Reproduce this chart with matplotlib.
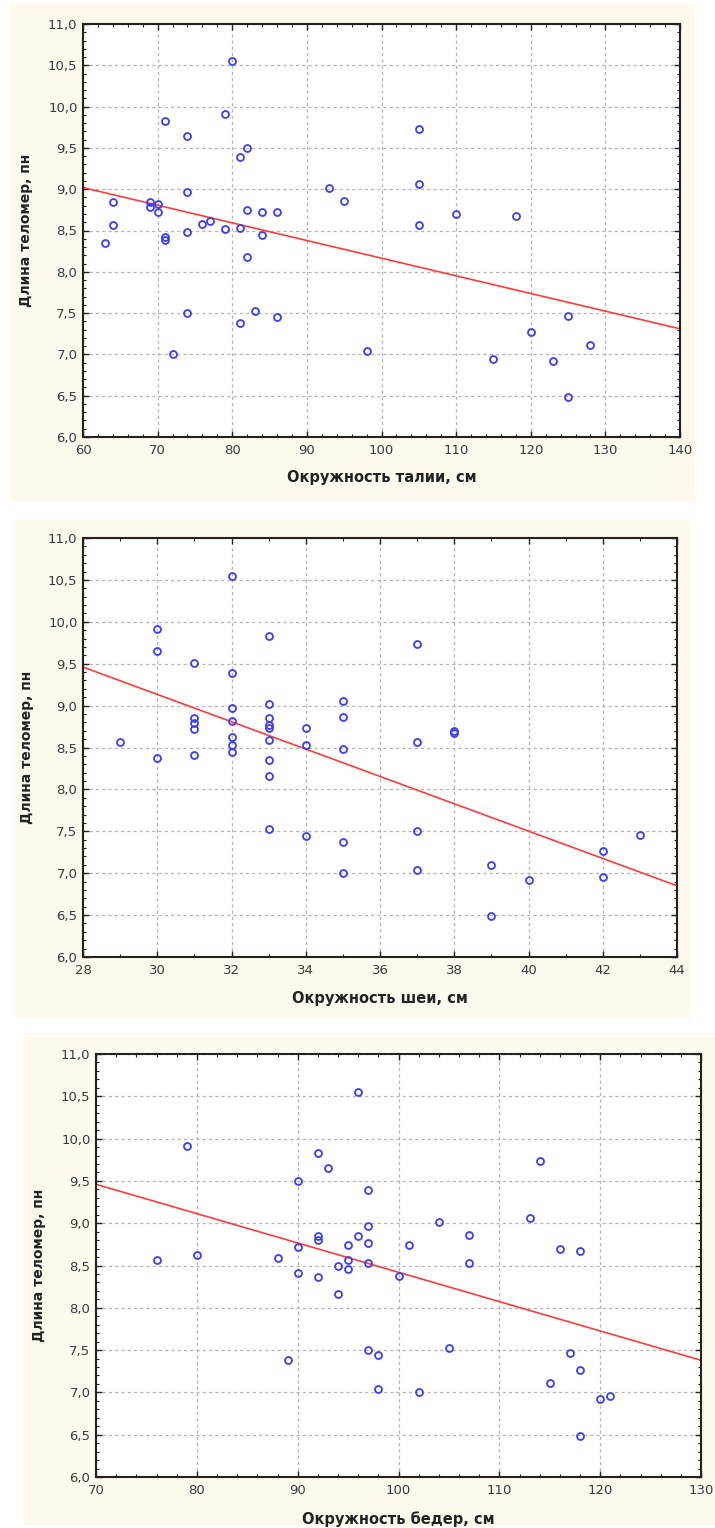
import numpy as np
import matplotlib
matplotlib.use("Agg")
import matplotlib.pyplot as plt
from matplotlib.patches import Rectangle
from matplotlib.ticker import MultipleLocator, FuncFormatter

# ---- data ----
# telomere length (пн) vs waist circumference (см)
waist_cm = [63, 64, 64, 69, 69, 70, 70, 71, 71, 71, 72, 74, 74, 74, 74, 76, 77, 79, 79,
            80, 81, 81, 81, 82, 82, 82, 83, 84, 84, 86, 86, 93, 95, 98, 105, 105, 105,
            110, 115, 118, 120, 123, 125, 125, 128]
waist_tl = [8.35, 8.85, 8.57, 8.85, 8.79, 8.82, 8.72, 9.83, 8.42, 8.38, 7.00, 9.65, 8.97, 8.48,
            7.50, 8.58, 8.62, 9.91, 8.52, 10.55, 9.39, 8.53, 7.38, 9.50, 8.75, 8.18, 7.53,
            8.73, 8.45, 8.73, 7.45, 9.02, 8.86, 7.04, 9.73, 9.06, 8.57, 8.70, 6.95, 8.67,
            7.27, 6.92, 7.46, 6.49, 7.11]
waist_fit_x = [60, 140]
waist_fit_y = [9.02, 7.31]

# neck circumference (см)
neck_cm = [29, 30, 30, 30, 31, 31, 31, 31, 31, 32, 32, 32, 32, 32, 32, 32, 33, 33, 33, 33,
           33, 33, 33, 33, 33, 34, 34, 34, 35, 35, 35, 35, 35, 37, 37, 37, 37, 38, 38, 39,
           39, 40, 42, 42, 43]
neck_tl = [8.57, 9.91, 9.65, 8.37, 9.51, 8.85, 8.79, 8.72, 8.41, 10.55, 9.39, 8.97, 8.82,
           8.62, 8.53, 8.45, 9.83, 9.02, 8.85, 8.77, 8.73, 8.59, 8.35, 8.16, 7.53, 8.73,
           8.53, 7.44, 9.06, 8.86, 8.48, 7.37, 7.00, 9.73, 8.57, 7.50, 7.04, 8.70, 8.67,
           7.10, 6.49, 6.92, 7.27, 6.96, 7.45]
neck_fit_x = [28, 44]
neck_fit_y = [9.46, 6.85]

# hip circumference (см)
hip_cm = [76, 79, 80, 88, 89, 90, 90, 90, 92, 92, 92, 92, 93, 94, 94, 95, 95, 95, 96, 96,
          97, 97, 97, 97, 97, 98, 98, 100, 101, 102, 104, 105, 107, 107, 113, 114, 115,
          116, 117, 118, 118, 118, 120, 121]
hip_tl = [8.57, 9.91, 8.63, 8.59, 7.38, 9.50, 8.72, 8.41, 9.83, 8.85, 8.80, 8.36, 9.65,
          8.49, 8.16, 8.74, 8.57, 8.46, 10.55, 8.85, 9.39, 8.97, 8.77, 8.53, 7.50, 7.44,
          7.04, 8.38, 8.74, 7.00, 9.02, 7.53, 8.86, 8.53, 9.06, 9.73, 7.11, 8.70, 7.46,
          8.67, 7.27, 6.49, 6.92, 6.96]
hip_fit_x = [70, 130]
hip_fit_y = [9.46, 7.38]

y_label = "Длина теломер, пн"
x_labels = ["Окружность талии, см", "Окружность шеи, см", "Окружность бедер, см"]

# ---- layout (pixels) ----
W, H = 715, 1528
CREAM = "#fdf9ec"
BLUE = "#3c3cff"
RED = "#ff3b3b"

panels = [
    dict(x=waist_cm, y=waist_tl, fx=waist_fit_x, fy=waist_fit_y, xlim=(60, 140), xmaj=10, xmin=2,
         box=(83, 24, 680, 437), bg=(10, 4, 695, 502), label=x_labels[0]),
    dict(x=neck_cm, y=neck_tl, fx=neck_fit_x, fy=neck_fit_y, xlim=(28, 44), xmaj=2, xmin=1,
         box=(83, 538, 677, 957), bg=(15, 520, 690, 1017), label=x_labels[1]),
    dict(x=hip_cm, y=hip_tl, fx=hip_fit_x, fy=hip_fit_y, xlim=(70, 130), xmaj=10, xmin=2,
         box=(96, 1054, 701, 1477), bg=(24, 1033, 715, 1525), label=x_labels[2]),
]

comma = FuncFormatter(lambda v, p: f"{v:.1f}".replace(".", ","))

fig = plt.figure(figsize=(W / 100, H / 100), dpi=100)
fig.patch.set_facecolor("white")

for p in panels:
    # cream panel behind each chart
    l, t, r, b = p["bg"]
    fig.patches.append(Rectangle((l / W, 1 - b / H), (r - l) / W, (b - t) / H,
                                 transform=fig.transFigure, facecolor=CREAM,
                                 edgecolor="none", zorder=-5))
    l, t, r, b = p["box"]
    ax = fig.add_axes([l / W, 1 - b / H, (r - l) / W, (b - t) / H])
    ax.set_facecolor("white")

    ax.plot(p["x"], p["y"], "o", ms=5, mfc="none", mec=BLUE, mew=1.3, zorder=3)
    ax.plot(p["fx"], p["fy"], "-", color=RED, lw=1.2, zorder=2)

    ax.set_xlim(*p["xlim"])
    ax.set_ylim(6, 11)
    ax.xaxis.set_major_locator(MultipleLocator(p["xmaj"]))
    ax.xaxis.set_minor_locator(MultipleLocator(p["xmin"]))
    ax.yaxis.set_major_locator(MultipleLocator(0.5))
    ax.yaxis.set_minor_locator(MultipleLocator(0.1))
    ax.yaxis.set_major_formatter(comma)

    ax.grid(True, which="major", color="#b4b4b4", lw=0.9, ls=(0, (2.5, 2.5)))
    ax.tick_params(which="both", direction="in", top=True, right=True, color="#222222",
                   labelsize=9.5, labelcolor="#3a3a3a")
    ax.tick_params(which="major", length=4, width=1)
    ax.tick_params(which="minor", length=2.5, width=0.8)
    ax.tick_params(axis="x", pad=5)
    ax.tick_params(axis="y", pad=4)
    for s in ax.spines.values():
        s.set_color("#222222")
        s.set_linewidth(1.5)

    ax.set_ylabel(y_label, fontsize=10, fontweight="bold", color="#222222")
    ax.set_xlabel(p["label"], fontsize=10.5, fontweight="bold", color="#222222")
    ax.yaxis.set_label_coords(-0.095, 0.5)
    ax.xaxis.set_label_coords(0.5, -0.099)
    ax.xaxis.label.set_va("center")
    ax.yaxis.label.set_va("center")

fig.savefig("out.png", dpi=100)
